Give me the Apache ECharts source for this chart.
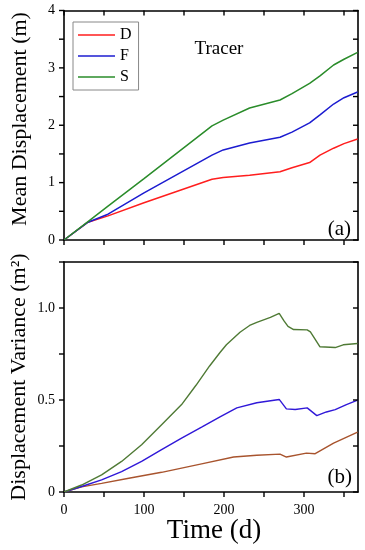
<!DOCTYPE html>
<html><head><meta charset="utf-8">
<script src="https://cdn.jsdelivr.net/npm/echarts@6/dist/echarts.min.js"></script>
<style>html,body{margin:0;padding:0;background:#fff}#c{width:365px;height:550px}</style>
</head><body><div id="c"></div>
<script>
// ---- data ----
const seriesNames = ['D', 'F', 'S'];
// (a) Mean displacement (m)
const timeA = [0, 30, 55, 100, 185, 199, 232, 270, 285, 307, 320, 337, 350, 367];
const meanD = [0, 0.31, 0.42, 0.65, 1.06, 1.09, 1.13, 1.19, 1.26, 1.35, 1.48, 1.60, 1.68, 1.76];
const meanF = [0, 0.31, 0.45, 0.82, 1.48, 1.57, 1.69, 1.79, 1.88, 2.04, 2.18, 2.37, 2.48, 2.58];
const meanS = [0, 0.32, 0.59, 1.07, 1.99, 2.09, 2.30, 2.44, 2.55, 2.73, 2.86, 3.05, 3.15, 3.27];
// (b) Displacement variance (m^2)
const timeVS = [0, 22, 47, 72, 97, 122, 147, 165, 182, 195, 203, 220, 232, 241, 258, 269, 275, 280, 287, 304, 308, 320, 339, 349, 367];
const varS   = [0, 0.038, 0.093, 0.166, 0.257, 0.366, 0.475, 0.58, 0.685, 0.758, 0.80, 0.868, 0.905, 0.922, 0.949, 0.971, 0.93, 0.90, 0.883, 0.881, 0.87, 0.789, 0.785, 0.80, 0.807];
const timeVF = [0, 22, 47, 72, 97, 122, 147, 172, 195, 216, 241, 269, 278, 289, 304, 316, 328, 339, 353, 367];
const varF   = [0, 0.03, 0.066, 0.111, 0.166, 0.23, 0.293, 0.352, 0.408, 0.457, 0.485, 0.503, 0.452, 0.448, 0.457, 0.415, 0.435, 0.448, 0.475, 0.499];
const timeVD = [0, 22, 47, 81, 122, 172, 212, 241, 270, 278, 303, 314, 337, 367];
const varD   = [0, 0.028, 0.047, 0.075, 0.107, 0.153, 0.19, 0.200, 0.206, 0.19, 0.211, 0.208, 0.266, 0.326];
// ticks and tick labels
const xTicks = [0, 50, 100, 150, 200, 250, 300, 350];
const xLabels = [0, 100, 200, 300];
const yTicksA = [0, 0.5, 1, 1.5, 2, 2.5, 3, 3.5, 4];
const yLabelsA = [0, 1, 2, 3, 4];
const yTicksB = [0, 0.25, 0.5, 0.75, 1, 1.25];
const yLabelsB = [0, 0.5, 1];

const X_MAX = 367.5;
const Y_MAX_A = 4;
const Y_MAX_B = 1.25;
const FONT = 'Liberation Serif, Times New Roman, serif';
const topColors = ['#ff1e1e', '#1c1cd0', '#2a8c2a'];
const botColors = ['#a8542e', '#3018d8', '#4f7a35'];
const TICK_LEN = 5;
const tickStyle = {stroke: '#000', lineWidth: 1.4};

const zip = (t, v) => t.map((x, i) => [x, v[i]]);
const axLine = () => ({show: true, onZero: false, lineStyle: {color: '#000', width: 1.6}});
const lbl = (vals, fmt, margin) => ({
  show: true, color: '#000', fontFamily: FONT, fontSize: 14, margin: margin,
  formatter: v => (vals.some(a => Math.abs(a - v) < 1e-9) ? fmt(v) : '')
});

function xAx(grid, pos, label) {
  return {type: 'value', gridIndex: grid, position: pos, min: 0, max: X_MAX, interval: 50,
    axisLine: axLine(), splitLine: {show: false}, axisTick: {show: false},
    axisLabel: label || {show: false}};
}
function yAx(grid, pos, max, interval, label) {
  return {type: 'value', gridIndex: grid, position: pos, min: 0, max: max, interval: interval,
    axisLine: axLine(), splitLine: {show: false}, axisTick: {show: false},
    axisLabel: label || {show: false}};
}

// tick marks drawn via the axes' own scales (api.coord)
function xTickSeries(axisIdx, yMax, withTop) {
  return {
    name: 'xticks' + axisIdx, type: 'custom', xAxisIndex: axisIdx, yAxisIndex: axisIdx,
    silent: true, clip: false, z: 5, data: xTicks.map(v => [v, 0]),
    renderItem: (params, api) => {
      const v = xTicks[params.dataIndex];
      const b = api.coord([v, 0]);
      const t = api.coord([v, yMax]);
      const ch = [{type: 'line', shape: {x1: b[0], y1: b[1], x2: b[0], y2: b[1] + TICK_LEN}, style: tickStyle}];
      if (withTop) ch.push({type: 'line', shape: {x1: t[0], y1: t[1], x2: t[0], y2: t[1] + TICK_LEN}, style: tickStyle});
      return {type: 'group', children: ch};
    }
  };
}
function yTickSeries(axisIdx, ticks) {
  return {
    name: 'yticks' + axisIdx, type: 'custom', xAxisIndex: axisIdx, yAxisIndex: axisIdx,
    silent: true, clip: false, z: 5, data: ticks.map(v => [0, v]),
    renderItem: (params, api) => {
      const v = ticks[params.dataIndex];
      const l = api.coord([0, v]);
      const r = api.coord([X_MAX, v]);
      return {type: 'group', children: [
        {type: 'line', shape: {x1: l[0] - TICK_LEN, y1: l[1], x2: l[0], y2: l[1]}, style: tickStyle},
        {type: 'line', shape: {x1: r[0] - TICK_LEN, y1: r[1], x2: r[0], y2: r[1]}, style: tickStyle}
      ]};
    }
  };
}

const chart = echarts.init(document.getElementById('c'));
const option = {
  animation: false,
  backgroundColor: '#fff',
  grid: [
    {left: 64, right: 7, top: 10.5, height: 229.5},
    {left: 64, right: 7, top: 262, height: 230}
  ],
  xAxis: [
    xAx(0, 'bottom'),
    xAx(0, 'top'),
    xAx(1, 'bottom', lbl(xLabels, v => String(v), 11)),
    xAx(1, 'top')
  ],
  yAxis: [
    yAx(0, 'left', Y_MAX_A, 0.5, lbl(yLabelsA, v => String(v), 9)),
    yAx(0, 'right', Y_MAX_A, 0.5),
    yAx(1, 'left', Y_MAX_B, 0.25, lbl(yLabelsB, v => v === 0 ? '0' : v.toFixed(1), 9)),
    yAx(1, 'right', Y_MAX_B, 0.25)
  ],
  legend: {
    data: seriesNames, orient: 'vertical', left: 73, top: 22, icon: 'rect',
    padding: [5, 7, 5, 5], itemWidth: 37, itemHeight: 1.6, itemGap: 5,
    borderColor: '#888', borderWidth: 1,
    textStyle: {fontFamily: FONT, fontSize: 16, lineHeight: 16, color: '#000'}
  },
  series: [
    {name: 'D', type: 'line', xAxisIndex: 0, yAxisIndex: 0, data: zip(timeA, meanD), symbol: 'none', color: topColors[0], lineStyle: {width: 1.5}},
    {name: 'F', type: 'line', xAxisIndex: 0, yAxisIndex: 0, data: zip(timeA, meanF), symbol: 'none', color: topColors[1], lineStyle: {width: 1.5}},
    {name: 'S', type: 'line', xAxisIndex: 0, yAxisIndex: 0, data: zip(timeA, meanS), symbol: 'none', color: topColors[2], lineStyle: {width: 1.5}},
    {name: 'D-var', type: 'line', xAxisIndex: 2, yAxisIndex: 2, data: zip(timeVD, varD), symbol: 'none', color: botColors[0], lineStyle: {width: 1.4}},
    {name: 'F-var', type: 'line', xAxisIndex: 2, yAxisIndex: 2, data: zip(timeVF, varF), symbol: 'none', color: botColors[1], lineStyle: {width: 1.4}},
    {name: 'S-var', type: 'line', xAxisIndex: 2, yAxisIndex: 2, data: zip(timeVS, varS), symbol: 'none', color: botColors[2], lineStyle: {width: 1.4}},
    xTickSeries(0, Y_MAX_A, true),
    yTickSeries(0, yTicksA),
    xTickSeries(2, Y_MAX_B, false),
    yTickSeries(2, yTicksB)
  ],
  graphic: [
    {type: 'text', x: 219, y: 49, style: {text: 'Tracer', font: '19px ' + FONT, fill: '#000', textAlign: 'center', textVerticalAlign: 'middle'}},
    {type: 'text', x: 351, y: 229, style: {text: '(a)', font: '21px ' + FONT, fill: '#000', textAlign: 'right', textVerticalAlign: 'middle'}},
    {type: 'text', x: 352, y: 477, style: {text: '(b)', font: '21px ' + FONT, fill: '#000', textAlign: 'right', textVerticalAlign: 'middle'}},
    {type: 'text', x: 20, y: 119, rotation: Math.PI / 2, style: {text: 'Mean Displacement (m)', font: '22px ' + FONT, fill: '#000', textAlign: 'center', textVerticalAlign: 'middle'}},
    {type: 'text', x: 19, y: 377, rotation: Math.PI / 2, style: {text: 'Displacement Variance (m²)', font: '22px ' + FONT, fill: '#000', textAlign: 'center', textVerticalAlign: 'middle'}},
    {type: 'text', x: 214, y: 531, style: {text: 'Time (d)', font: '27px ' + FONT, fill: '#000', textAlign: 'center', textVerticalAlign: 'middle'}}
  ]
};
chart.setOption(option);
</script></body></html>
